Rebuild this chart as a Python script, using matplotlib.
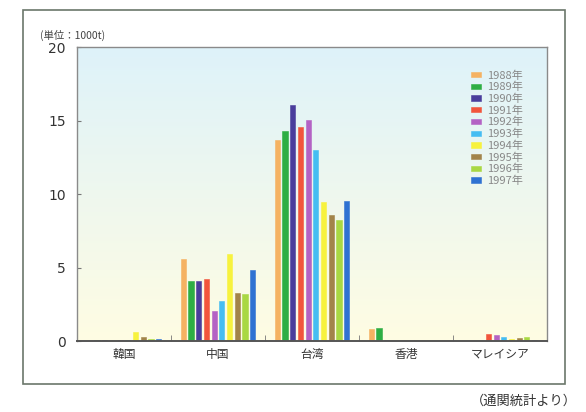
import numpy as np
import matplotlib
matplotlib.use("Agg")
import matplotlib.pyplot as plt
from matplotlib.patches import Rectangle

plt.rcParams['font.family'] = ['Noto Sans CJK JP', 'DejaVu Sans']

# data (unit: 1000t)
countries = ["韓国", "中国", "台湾", "香港", "マレイシア"]
years = ["1988年", "1989年", "1990年", "1991年", "1992年",
         "1993年", "1994年", "1995年", "1996年", "1997年"]
korea = [0.02, 0.05, 0.08, 0.0, 0.05, 0.1, 0.6, 0.3, 0.15, 0.15]
china = [5.6, 4.05, 4.1, 4.2, 2.05, 2.7, 5.9, 3.3, 3.2, 4.8]
taiwan = [13.7, 14.3, 16.05, 14.55, 15.05, 13.0, 9.45, 8.55, 8.25, 9.55]
hongkong = [0.8, 0.9, 0.1, 0.02, 0.0, 0.0, 0.0, 0.0, 0.0, 0.0]
malaysia = [0.0, 0.0, 0.0, 0.5, 0.4, 0.25, 0.15, 0.2, 0.3, 0.1]
colors = ["#f5b262", "#2eae44", "#4a3d9c", "#f2553c", "#b462c4",
          "#45bdf2", "#f7f23e", "#a2844a", "#a9d843", "#2f72d2"]

values = np.array([korea, china, taiwan, hongkong, malaysia])

fig = plt.figure(figsize=(5.86, 4.12), dpi=100)
ax = fig.add_axes([0.1314, 0.1723, 0.8020, 0.7136])

# outer frame
fig.patches.append(Rectangle((0.039, 0.068), 0.925, 0.908, transform=fig.transFigure,
                             fill=False, edgecolor="#6b776b", linewidth=1.2))

# gradient background: light cyan at top -> light yellow at bottom
top = np.array([0.87, 0.95, 0.98])
bot = np.array([1.0, 0.99, 0.89])
t = np.linspace(0, 1, 256)[:, None]
grad = (top * (1 - t) + bot * t)[:, None, :]
ax.imshow(grad, extent=[0, 1, 0, 1], transform=ax.transAxes,
          aspect="auto", zorder=0)

x = np.arange(len(countries))
step = 0.082
width = 0.054
for i, yr in enumerate(years):
    offs = (i - 4.5) * step
    ax.bar(x + offs, values[:, i], width=width, color=colors[i],
           edgecolor=colors[i], linewidth=0.4, label=yr, zorder=2)

ax.set_xlim(-0.5, len(countries) - 0.5)
ax.set_ylim(0, 20)
ax.set_yticks([0, 5, 10, 15, 20])
ax.set_yticklabels(["0", "5", "10", "15", "20"], fontsize=10, color="#333333",
                   family="DejaVu Sans")
ax.set_xticks(x)
ax.set_xticklabels(countries, fontsize=8.5, color="#333333")
ax.tick_params(axis="x", length=0, pad=5)
ax.set_xticks(np.arange(0.5, len(countries) - 0.5), minor=True)
ax.tick_params(axis="x", which="minor", direction="in", length=4,
               color="#777777")
ax.tick_params(axis="y", direction="in", length=3, color="#777777", pad=8)

for s in ax.spines.values():
    s.set_color("#8a8a8a")
    s.set_linewidth(1.0)
ax.spines["bottom"].set_color("#555555")
ax.spines["bottom"].set_linewidth(1.4)

fig.text(0.068, 0.905, "(単位：1000t)", fontsize=7.5, color="#444444")

leg = ax.legend(loc="upper left", bbox_to_anchor=(0.818, 0.955), frameon=False,
                fontsize=8, handlelength=0.9, handleheight=0.35,
                labelspacing=0.12, handletextpad=0.5, labelcolor="#888888")

fig.text(0.985, 0.018, "（通関統計より）", fontsize=9.5, color="#333333", ha="right")

fig.savefig("out.png", dpi=100)
